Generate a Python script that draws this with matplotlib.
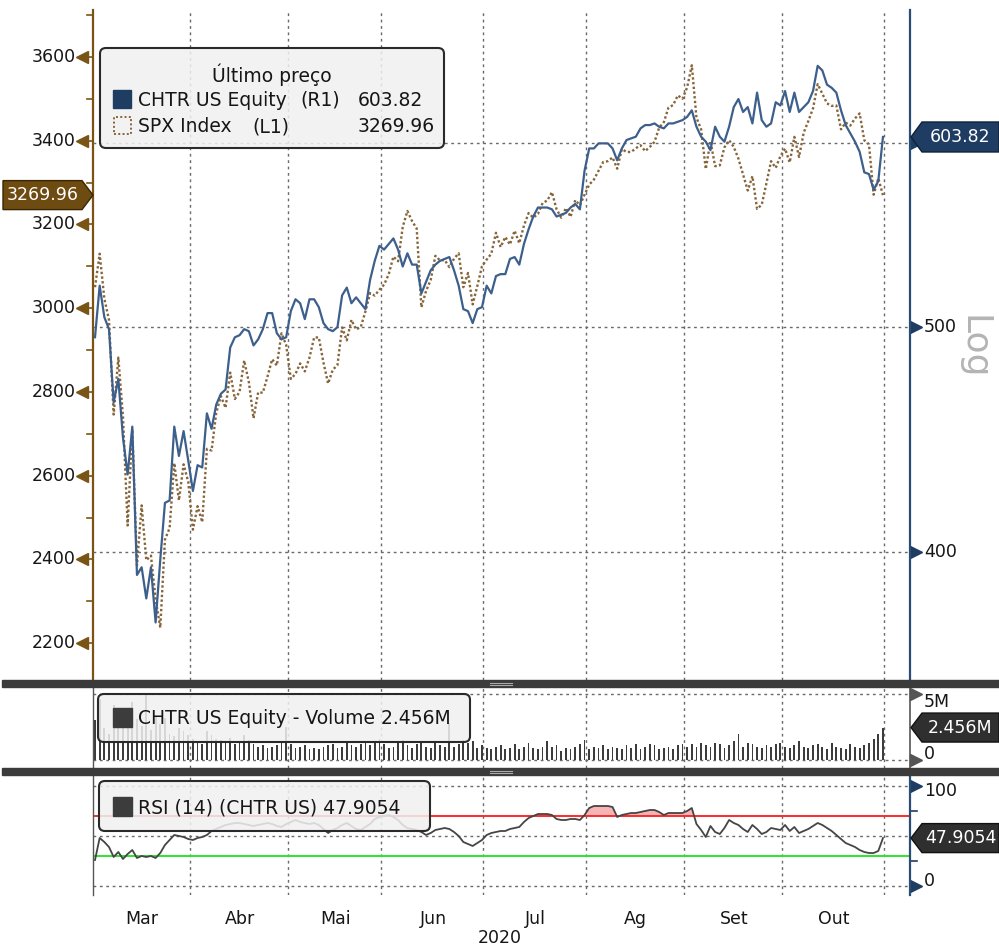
import numpy as np
import matplotlib
matplotlib.use("Agg")
import matplotlib.pyplot as plt
from matplotlib.patches import Polygon, Rectangle, FancyBboxPatch
from matplotlib.ticker import NullLocator

plt.rcParams["font.family"] = ["DejaVu Sans"]

# ---- data (daily closes, 3 Mar - 30 Oct 2020, one value per trading day) ----
months = ["Mar", "Abr", "Mai", "Jun", "Jul", "Ag", "Set", "Out"]
month_days = [21, 21, 20, 22, 22, 21, 21, 22]
year_label = "2020"

spx = [
    3050, 3130, 3023, 2972, 2746, 2882, 2741, 2481, 2711, 2386, 2529, 2398, 2409, 2305, 2237, 2447, 2475, 2630, 2541, 2627, 2585,
    2471, 2527, 2489, 2664, 2660, 2750, 2790, 2762, 2846, 2783, 2800, 2875, 2823, 2737, 2799, 2798, 2837, 2878, 2863, 2940, 2912,
    2831, 2843, 2868, 2849, 2882, 2930, 2930, 2870, 2820, 2853, 2864, 2954, 2923, 2972, 2949, 2955, 2992, 3036, 3030, 3044,
    3056, 3081, 3123, 3112, 3194, 3232, 3208, 3190, 3002, 3041, 3067, 3125, 3114, 3115, 3098, 3118, 3131, 3050, 3084, 3009, 3053, 3100,
    3116, 3130, 3180, 3146, 3170, 3152, 3185, 3155, 3197, 3227, 3216, 3225, 3251, 3257, 3277, 3236, 3216, 3239, 3218, 3258, 3246, 3271,
    3295, 3307, 3328, 3349, 3351, 3360, 3333, 3380, 3373, 3373, 3382, 3389, 3375, 3385, 3397, 3431, 3444, 3479, 3485, 3508, 3500,
    3527, 3580, 3455, 3427, 3332, 3399, 3339, 3341, 3384, 3401, 3385, 3357, 3319, 3281, 3315, 3237, 3247, 3298, 3351, 3335, 3363,
    3381, 3348, 3409, 3361, 3419, 3447, 3477, 3535, 3512, 3489, 3483, 3484, 3427, 3443, 3436, 3453, 3465, 3401, 3391, 3271, 3310, 3269.96,
]

chtr = [
    495, 521, 505, 499, 464, 475, 448, 432, 453, 391, 394, 382, 394, 373, 397, 420, 421, 453, 440, 451, 438,
    425, 436, 435, 459, 452, 463, 468, 470, 490, 495, 496, 499, 498, 491, 494, 499, 507, 507, 497, 494, 495,
    508, 514, 512, 504, 514, 514, 510, 502, 499, 498, 500, 516, 520, 512, 515, 512, 509, 524, 534, 542,
    540, 543, 546, 540, 531, 538, 532, 532, 517, 523, 529, 532, 534, 535, 536, 529, 521, 509, 508, 502, 509, 510,
    521, 517, 526, 527, 527, 535, 536, 532, 543, 551, 558, 563, 563, 563, 562, 558, 559, 560, 563, 565, 562, 584,
    597, 597, 600, 600, 600, 597, 590, 597, 602, 603, 604, 609, 611, 611, 612, 610, 609, 612, 612, 613, 614,
    616, 620, 610, 604, 601, 596, 610, 604, 601, 610, 622, 627, 619, 622, 612, 631, 614, 610, 612, 625, 623,
    632, 619, 631, 619, 622, 625, 632, 648, 645, 636, 634, 631, 620, 611, 606, 601, 595, 583, 582, 573, 578, 603.82,
]

# CHTR volume, millions of shares
volume_m = [
    3.0, 4.6, 2.4, 2.0, 4.2, 3.4, 2.6, 3.9, 4.4, 3.1, 2.6, 5.1, 2.3, 3.3, 2.7, 3.2, 2.0, 1.8, 2.4, 2.2, 1.9,
    1.6, 1.4, 1.2, 2.2, 1.9, 1.6, 1.5, 1.3, 1.7, 1.2, 1.4, 1.9, 1.5, 1.2, 1.0, 1.1, 0.9, 1.0, 1.1, 1.3, 2.5,
    1.2, 0.9, 1.0, 1.1, 0.8, 0.9, 0.8, 1.0, 1.1, 1.2, 0.9, 1.0, 1.3, 1.1, 1.0, 1.2, 1.4, 1.1, 1.3, 1.6,
    1.2, 0.9, 1.0, 1.3, 1.5, 1.1, 0.9, 1.2, 1.4, 1.0, 0.9, 1.3, 1.1, 1.0, 2.8, 1.0, 1.2, 1.5, 1.3, 1.4, 0.9, 1.1,
    0.9, 0.8, 1.0, 1.1, 0.8, 0.9, 1.2, 0.8, 1.0, 1.3, 0.9, 0.8, 1.0, 1.4, 1.0, 1.1, 0.7, 0.9, 0.8, 1.0, 1.2, 1.5,
    0.8, 1.0, 0.9, 1.1, 0.8, 1.0, 0.9, 0.8, 1.1, 0.9, 1.2, 0.8, 1.0, 1.2, 1.1, 0.8, 0.9, 1.0, 0.8, 1.1, 1.2,
    1.0, 1.2, 1.0, 1.3, 1.1, 1.0, 1.3, 1.2, 0.9, 1.1, 1.4, 2.0, 1.0, 1.3, 1.2, 1.0, 0.9, 1.1, 1.0, 1.2, 1.3,
    1.0, 0.9, 1.1, 1.4, 1.0, 0.9, 1.1, 1.2, 1.0, 0.8, 1.3, 1.0, 0.9, 0.8, 1.2, 1.0, 0.9, 1.1, 1.3, 1.6, 2.0, 2.456,
]

rsi = [
    26, 48, 44, 39, 29, 34, 27, 32, 36, 28, 30, 29, 30, 28, 33, 41, 46, 51, 50, 49, 47,
    46, 48, 49, 51, 55, 57, 59, 61, 62, 63, 63, 62, 61, 60, 61, 62, 63, 62, 60, 59, 62,
    64, 66, 64, 63, 62, 63, 61, 57, 53, 56, 58, 61, 63, 60, 57, 56, 59, 62, 67, 69,
    70, 71, 69, 66, 61, 58, 57, 56, 54, 51, 53, 56, 57, 58, 57, 54, 50, 44, 42, 40, 43, 46,
    51, 53, 54, 55, 55, 57, 58, 59, 64, 68, 70, 72, 72, 72, 71, 67, 66, 66, 67, 67, 66, 71,
    78, 80, 80, 80, 80, 79, 69, 71, 72, 73, 73, 74, 75, 76, 76, 74, 71, 73, 73, 73, 73,
    75, 78, 62, 56, 49, 60, 54, 52, 58, 66, 63, 61, 57, 54, 61, 57, 52, 54, 58, 57, 56,
    61, 55, 59, 53, 55, 57, 60, 63, 61, 58, 55, 51, 47, 43, 41, 39, 36, 34, 33, 33, 35, 47.9054,
]

spx_last = spx[-1]
chtr_last = chtr[-1]
vol_last = volume_m[-1]
rsi_last = rsi[-1]

# ---- colours ----
BROWN = "#7a5414"
SPX_COL = "#86653a"
CHTR_COL = "#3d5f8b"
NAVY = "#1f3c62"
GRID = "#6a6a6a"
TXT = "#161616"
DOT = (0, (2, 2.6))

W, H = 999, 947
fig = plt.figure(figsize=(W / 100, H / 100), dpi=100)
fig.patch.set_facecolor("white")


def fx(px):
    return px / W


def fy(py):
    return 1 - py / H


LEFT, RIGHT = 93, 910
AXW = RIGHT - LEFT


def add_panel(top, bottom):
    return fig.add_axes([fx(LEFT), fy(bottom), AXW / W, (bottom - top) / H])


ax = add_panel(10, 680)
axv = add_panel(687, 768)
axr = add_panel(775, 895)

x = np.arange(len(spx))
starts = np.cumsum([0] + month_days[:-1])
bounds = np.append(starts[1:], sum(month_days)) - 0.7
centers = starts + (np.array(month_days) - 1) / 2
xlim = (-0.43, 174.8)

for a in (ax, axv, axr):
    a.set_xlim(xlim)
    a.set_yticks([])
    a.set_facecolor("none")
    for s in ("top", "bottom", "right"):
        a.spines[s].set_visible(False)
    a.spines["left"].set_color("#555555")
    a.spines["left"].set_linewidth(1.0)
    for b in bounds:
        a.axvline(b, color=GRID, lw=1.0, ls=DOT, zorder=0)
ax.set_xticks([])
axv.set_xticks([])


def ax_px(px):
    # horizontal offset in pixels -> axes fraction
    return px / AXW


# ---- main panel ----
ax.set_ylim(2112, 3712)
ax.spines["left"].set_color(BROWN)
ax.spines["left"].set_linewidth(1.6)
ax.plot(x, spx, color=SPX_COL, lw=1.7, ls=(0, (1, 1)), zorder=3)

ax2 = ax.twinx()
ax2.set_yscale("log")
ax2.set_ylim(352.3, 684.9)
ax2.set_xlim(xlim)
ax2.yaxis.set_major_locator(NullLocator())
ax2.yaxis.set_minor_locator(NullLocator())
ax2.set_facecolor("none")
for s in ("top", "bottom", "left"):
    ax2.spines[s].set_visible(False)
ax2.spines["right"].set_color("#2a4d75")
ax2.spines["right"].set_linewidth(1.6)
for v in (400, 500, 600):
    ax2.axhline(v, color=GRID, lw=1.0, ls=DOT, zorder=0)
ax2.plot(x, chtr, color=CHTR_COL, lw=1.6, zorder=4)

ytr = ax.get_yaxis_transform()
for v in range(2200, 3601, 200):
    ax.plot([ax_px(-12), 0], [v, v], color=BROWN, lw=1.2, transform=ytr, clip_on=False)
    ax.plot(ax_px(-11), v, marker="<", ms=8, color=BROWN, mec=BROWN, transform=ytr, clip_on=False)
    ax.text(ax_px(-17), v, str(v), transform=ytr, ha="right", va="center", fontsize=12.5, color=TXT)
for v in range(2300, 3701, 200):
    ax.plot([ax_px(-6), 0], [v, v], color=BROWN, lw=1.2, transform=ytr, clip_on=False)

ytr2 = ax2.get_yaxis_transform()
for v in (400, 500, 600):
    ax2.plot([1, 1 + ax_px(8)], [v, v], color=NAVY, lw=1.2, transform=ytr2, clip_on=False)
    ax2.plot(1 + ax_px(6), v, marker=">", ms=8, color=NAVY, transform=ytr2, clip_on=False)
for v in (400, 500):
    ax2.text(1 + ax_px(14), v, str(v), transform=ytr2, ha="left", va="center", fontsize=12.5, color=TXT)

fig.text(fx(974), fy(347), "Log", rotation=270, ha="center", va="center", fontsize=26, color="#b4b4b4")

# ---- volume panel ----
axv.set_ylim(-0.61, 5.53)
axv.bar(x, volume_m, width=0.38, color="#3c3c3c", zorder=2)
axv.spines["right"].set_visible(True)
axv.spines["right"].set_color("#555555")
axv.spines["right"].set_linewidth(1.2)
for v in (0, 5):
    axv.axhline(v, color=GRID, lw=1.0, ls=DOT, zorder=0)
ytrv = axv.get_yaxis_transform()
for v in (0, 5):
    axv.plot(1 + ax_px(6), v, marker=">", ms=8, color="#555555", transform=ytrv, clip_on=False)
axv.text(1 + ax_px(14), 5.05, "5M", transform=ytrv, ha="left", va="top", fontsize=12.5, color=TXT)
axv.text(1 + ax_px(14), -0.25, "0", transform=ytrv, ha="left", va="bottom", fontsize=12.5, color=TXT)

# ---- RSI panel ----
axr.set_ylim(-9, 111)
rsi_arr = np.array(rsi, dtype=float)
axr.fill_between(x, 70, rsi_arr, where=rsi_arr > 70, interpolate=True, color="#f7b4b4", lw=0, zorder=1)
for v in (0, 50, 100):
    axr.axhline(v, color=GRID, lw=1.0, ls=DOT, zorder=0)
axr.axhline(70, color="#ff2a2a", lw=1.4, zorder=2)
axr.axhline(30, color="#2ee52e", lw=1.4, zorder=2)
axr.plot(x, rsi_arr, color="#454545", lw=1.3, zorder=3)
axr.spines["right"].set_visible(True)
axr.spines["right"].set_color("#2a4d75")
axr.spines["right"].set_linewidth(1.6)
ytrr = axr.get_yaxis_transform()
for v in (0, 100):
    axr.plot(1 + ax_px(6), v, marker=">", ms=8, color=NAVY, transform=ytrr, clip_on=False)
for v in (25, 75):
    axr.plot([1, 1 + ax_px(7)], [v, v], color=NAVY, lw=1.2, transform=ytrr, clip_on=False)
axr.text(1 + ax_px(14), 104, "100", transform=ytrr, ha="left", va="top", fontsize=12.5, color=TXT)
axr.text(1 + ax_px(14), -4, "0", transform=ytrr, ha="left", va="bottom", fontsize=12.5, color=TXT)

axr.set_xticks(centers, months)
axr.tick_params(axis="x", length=0, pad=11, labelsize=12.5, labelcolor=TXT)
fig.text(fx(500), fy(938), year_label, ha="center", va="center", fontsize=12.5, color=TXT)

# ---- panel separators ----
for top in (680, 768):
    fig.add_artist(Rectangle((fx(2), fy(top + 7)), fx(999) - fx(2), 7 / H,
                             transform=fig.transFigure, color="#3b3b3b", zorder=6))
    for dy in (2.5, 4.5):
        fig.add_artist(plt.Line2D([fx(490), fx(512)], [fy(top + dy), fy(top + dy)],
                                  transform=fig.transFigure, color="#a8a8a8", lw=0.8, zorder=7))


# ---- value tags on the axes ----
def tag(a, value, side, color, edge, text, h):
    y = a.transData.transform((0, value))[1]
    if side == "left":
        x0, x1, tip = 3, 82, 93
        pts = [(x0, y - h / 2), (x1, y - h / 2), (tip, y), (x1, y + h / 2), (x0, y + h / 2)]
    else:
        x0, x1, tip = 922, 999, 911
        pts = [(x1, y - h / 2), (x0, y - h / 2), (tip, y), (x0, y + h / 2), (x1, y + h / 2)]
    pts = [(px / W, py / H) for px, py in pts]
    fig.add_artist(Polygon(pts, closed=True, transform=fig.transFigure, facecolor=color,
                           edgecolor=edge, lw=1.0, zorder=8))
    fig.text((x0 + x1) / 2 / W, y / H, text, ha="center", va="center", fontsize=12.5,
             color="white", zorder=9)


tag(ax, spx_last, "left", "#6e4b10", "#3a2505", f"{spx_last:.2f}", 29)
tag(ax2, chtr_last, "right", NAVY, "#0e2238", f"{chtr_last:.2f}", 30)
tag(axv, vol_last, "right", "#2f2f2f", "#111111", f"{vol_last:.3f}M", 29)
tag(axr, rsi_last, "right", "#2f2f2f", "#111111", f"{rsi_last:.4f}", 29)


# ---- legend boxes ----
def legend_box(x0, y0, x1, y1):
    fig.add_artist(FancyBboxPatch((fx(x0), fy(y1)), (x1 - x0) / W, (y1 - y0) / H,
                                  boxstyle="round,pad=0,rounding_size=0.006",
                                  transform=fig.transFigure, facecolor=(0.94, 0.94, 0.94, 0.86),
                                  edgecolor="#2a2a2a", lw=1.5, zorder=10))


def square(x0, y0, size, **kw):
    fig.add_artist(Rectangle((fx(x0), fy(y0 + size)), size / W, size / H,
                             transform=fig.transFigure, zorder=11, **kw))


def label(px, py, s, ha="left"):
    fig.text(fx(px), fy(py), s, ha=ha, va="center", fontsize=13.5, color=TXT, zorder=12)


legend_box(100, 48, 444, 148)
label(272, 75, "Último preço", ha="center")
square(113, 90, 18, facecolor=NAVY, edgecolor=NAVY)
label(138, 100, "CHTR US Equity")
label(300, 100, "(R1)")
label(358, 100, f"{chtr_last:.2f}")
square(114, 117, 17, facecolor="none", edgecolor=SPX_COL, lw=1.4, ls=(0, (1, 1.2)))
label(138, 127, "SPX Index")
label(252, 127, "(L1)")
label(358, 127, f"{spx_last:.2f}")

legend_box(98, 694, 470, 742)
square(113, 708, 19, facecolor="#3c3c3c", edgecolor="#3c3c3c")
label(138, 719, f"CHTR US Equity - Volume {vol_last:.3f}M")

legend_box(99, 781, 430, 831)
square(113, 797, 19, facecolor="#3c3c3c", edgecolor="#3c3c3c")
label(138, 808, f"RSI (14) (CHTR US) {rsi_last:.4f}")

fig.savefig("out.png", dpi=100)
